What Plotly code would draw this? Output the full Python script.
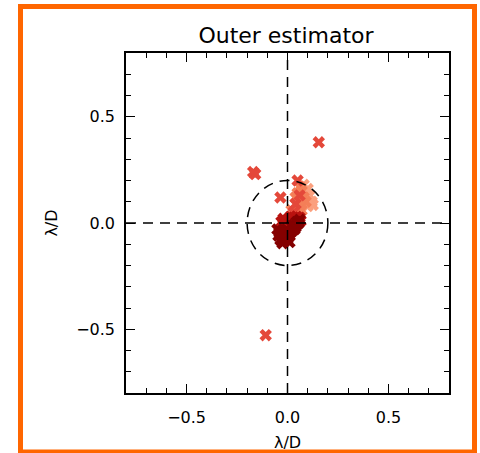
import plotly.graph_objects as go

# Data (lambda/D offsets), grouped by colour
dark_x = [-0.05, -0.045, -0.035, -0.025, -0.015, -0.03, -0.02, -0.01, 0.0, 0.01, -0.005, 0.005, 0.015, 0.025,
          0.035, 0.02, 0.03, 0.04, 0.05, 0.045, 0.055, 0.06, -0.04, 0.01]
dark_y = [-0.03, -0.06, -0.08, -0.095, -0.085, -0.045, -0.065, -0.05, -0.075, -0.06, -0.03, -0.04, -0.045, -0.035,
          -0.03, -0.015, -0.01, -0.02, -0.005, 0.005, 0.0, 0.015, -0.045, -0.09]
red_x = [-0.03, -0.02, 0.0, 0.015, 0.03, 0.045, 0.06, 0.065, -0.01, 0.02]
red_y = [0.005, 0.02, 0.015, 0.03, 0.025, 0.03, 0.025, 0.01, -0.005, 0.0]
mid_x = [-0.17, -0.16, 0.155, -0.108, -0.035, 0.04, 0.05, 0.03, 0.06]
mid_y = [0.24, 0.23, 0.38, -0.528, 0.12, 0.09, 0.2, 0.05, 0.13]
light_x = [0.06, 0.07, 0.08, 0.09, 0.05, 0.04, 0.06, 0.02, 0.03, 0.05, 0.07]
light_y = [0.17, 0.15, 0.12, 0.10, 0.14, 0.12, 0.08, 0.06, 0.04, 0.045, 0.06]
pale_x = [0.10, 0.11, 0.12, 0.10, 0.08, 0.09, 0.05, 0.04, 0.125]
pale_y = [0.16, 0.13, 0.10, 0.08, 0.18, 0.14, 0.06, 0.035, 0.085]

circle_r = 0.2
axis_range = [-0.8, 0.8]
tickvals = [-0.5, 0.0, 0.5]
ticktext = ["\u22120.5", "0.0", "0.5"]

fig = go.Figure()
series = [
    (pale_x, pale_y, "#fba07e"),
    (light_x, light_y, "#f47f58"),
    (mid_x, mid_y, "#e4483a"),
    (red_x, red_y, "#b8120f"),
    (dark_x, dark_y, "#850000"),
]
for xs, ys, col in series:
    fig.add_trace(go.Scatter(x=xs, y=ys, mode="markers",
                             marker=dict(symbol="x", size=11, color=col, line=dict(width=0)),
                             showlegend=False, hoverinfo="skip"))

dash = "10px,7px"
fig.add_shape(type="circle", x0=-circle_r, y0=-circle_r, x1=circle_r, y1=circle_r,
              line=dict(color="black", width=1.5, dash=dash))
fig.add_shape(type="line", x0=0, x1=0, y0=axis_range[0], y1=axis_range[1],
              line=dict(color="black", width=1.5, dash=dash))
fig.add_shape(type="line", y0=0, y1=0, x0=axis_range[0], x1=axis_range[1],
              line=dict(color="black", width=1.5, dash=dash))

# orange frame around the figure (paper coordinates relative to plot area)
L, R, T, B, W, H = 126, 31, 53, 60, 480, 453
pw, ph = W - L - R, H - T - B
fig.add_shape(type="rect", xref="paper", yref="paper",
              x0=(20.5 - L) / pw, x1=(474.5 - L) / pw,
              y0=(H - B - 452) / ph, y1=(H - B - 6.5) / ph,
              line=dict(color="#ff6600", width=5), layer="below")

axfont = dict(family="DejaVu Sans", size=16, color="black")
common = dict(range=axis_range, tickvals=tickvals, ticktext=ticktext, ticks="inside", ticklen=9,
              tickwidth=1.3, tickcolor="black", showline=True, linecolor="black", linewidth=1.5,
              mirror="allticks", showgrid=False, zeroline=False, tickfont=axfont, automargin=False,
              minor=dict(dtick=0.1, ticks="inside", ticklen=5, tickwidth=1.2, tickcolor="black", showgrid=False))

fig.update_xaxes(**common, title=dict(text="\u03bb/D", font=axfont, standoff=11), ticklabelstandoff=9)
fig.update_yaxes(**common, title=dict(text="\u03bb/D", font=axfont, standoff=15), ticklabelstandoff=6)

fig.update_layout(
    width=W, height=H,
    margin=dict(l=L, r=R, t=T, b=B, autoexpand=False),
    paper_bgcolor="white", plot_bgcolor="white",
    title=dict(text="Outer estimator", x=286 / W, xanchor="center", y=1 - 35 / H, yanchor="middle",
               font=dict(family="DejaVu Sans", size=22, color="black")),
)

fig.write_html("out.html")
